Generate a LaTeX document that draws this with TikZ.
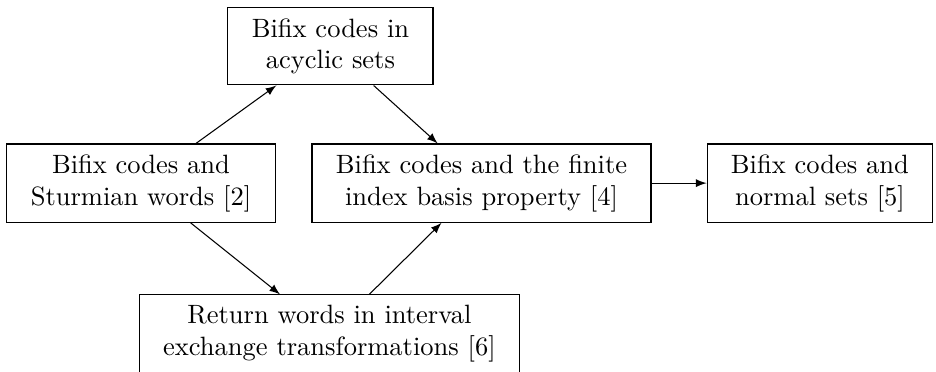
\documentclass[tikz,border=0pt]{standalone}
\begin{document}
\begin{tikzpicture}[x=1pt, y=1pt, box/.style={draw, align=center, inner xsep=9pt, inner ysep=4pt}]
  \useasboundingbox (0,0) rectangle (353.2,-140);
  \node[box] (acyc)  at (124.7,-17.5)  {Bifix codes in\\acyclic sets};
  \node[box] (sturm) at (53.2,-69.1)   {Bifix codes and\\Sturmian words [2]};
  \node[box] (fin)   at (181.7,-69.1)  {Bifix codes and the finite\\index basis property [4]};
  \node[box] (norm)  at (309.4,-69.1)  {Bifix codes and\\normal sets [5]};
  \node[box] (ret)   at (124.3,-126.0) {Return words in interval\\exchange transformations [6]};

  \foreach \a/\b in {sturm/acyc, acyc/fin, sturm/ret, ret/fin, fin/norm} {
      \draw[-latex] (\a) -- (\b);
  }
\end{tikzpicture}
\end{document}
